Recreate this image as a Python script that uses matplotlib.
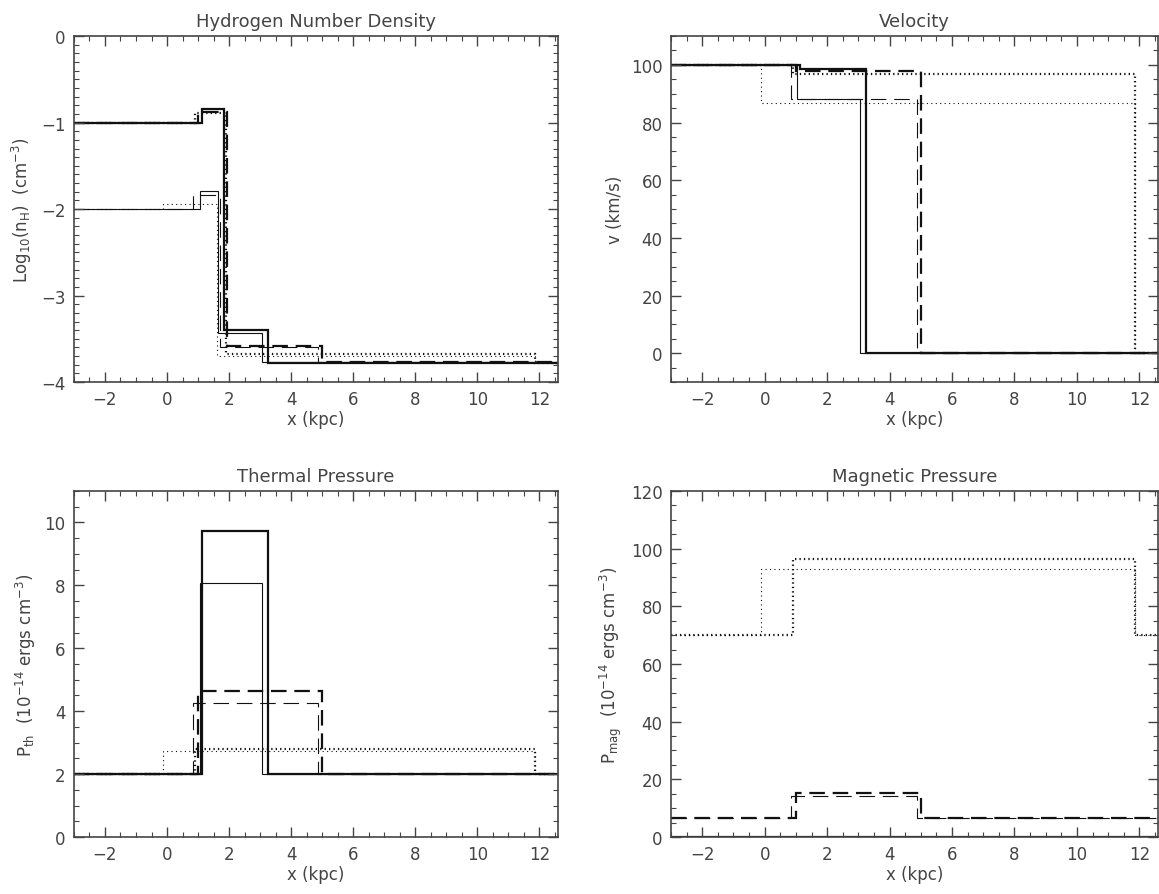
import matplotlib
matplotlib.use("Agg")
import matplotlib.pyplot as plt
from matplotlib.ticker import MultipleLocator

# x edges of each step profile (kpc), then the values between the edges
EDGES_SOLID_THICK = [-3, 1.14, 1.84, 3.24, 12.6]
EDGES_SOLID_THIN = [-3, 1.05, 1.65, 3.05, 12.6]
EDGES_DASH_THICK = [-3, 1.0, 1.93, 5.0, 12.6]
EDGES_DASH_THIN = [-3, 0.84, 1.71, 4.88, 12.6]
EDGES_DOT_THICK = [-3, 0.9, 1.9, 11.87, 12.6]
EDGES_DOT_THIN = [-3, -0.12, 1.61, 11.85, 12.6]

# Log10 hydrogen number density
NH_SOLID_THICK = [-1.0, -0.84, -3.40, -3.78]
NH_SOLID_THIN = [-2.0, -1.79, -3.43, -3.77]
NH_DASH_THICK = [-1.0, -0.88, -3.58, -3.77]
NH_DASH_THIN = [-2.0, -1.84, -3.60, -3.77]
NH_DOT_THICK = [-1.0, -0.89, -3.68, -3.78]
NH_DOT_THIN = [-2.0, -1.94, -3.70, -3.78]

# velocity (km/s)
V_SOLID_THICK = [100, 98.6, 98.6, 0]
V_SOLID_THIN = [100, 88, 88, 0]
V_DASH_THICK = [100, 98, 98, 0]
V_DASH_THIN = [100, 88, 88, 0]
V_DOT_THICK = [100, 96.8, 96.8, 0]
V_DOT_THIN = [100, 86.8, 86.8, 0]

# thermal pressure (1e-14 ergs cm^-3)
PTH_SOLID_THICK = [2, 9.73, 9.73, 2]
PTH_SOLID_THIN = [2, 8.08, 8.08, 2]
PTH_DASH_THICK = [2, 4.64, 4.64, 2]
PTH_DASH_THIN = [2, 4.26, 4.26, 2]
PTH_DOT_THICK = [2, 2.8, 2.8, 2]
PTH_DOT_THIN = [2, 2.73, 2.73, 2]

# magnetic pressure (1e-14 ergs cm^-3)
PMAG_SOLID_THICK = [0, 0, 0, 0]
PMAG_SOLID_THIN = [0, 0, 0, 0]
PMAG_DASH_THICK = [6.5, 15.2, 15.2, 6.5]
PMAG_DASH_THIN = [6.5, 14.3, 14.3, 6.5]
PMAG_DOT_THICK = [70, 96.4, 96.4, 70]
PMAG_DOT_THIN = [70, 93, 93, 70]

TXT = "#444444"
plt.rcParams['font.family'] = ['DejaVu Sans']
plt.rcParams['font.size'] = 12

fig = plt.figure(figsize=(11.59, 8.95), dpi=100)

# line styles per run: (edges, lw, linestyle)
styles = [
    (EDGES_SOLID_THICK, 1.6, "-"),
    (EDGES_SOLID_THIN, 0.8, "-"),
    (EDGES_DASH_THICK, 1.6, (0, (7, 3.5))),
    (EDGES_DASH_THIN, 0.8, (0, (14, 7))),
    (EDGES_DOT_THICK, 1.6, (0, (0.6, 1.4))),
    (EDGES_DOT_THIN, 0.8, (0, (1, 3))),
]

panels = [
    ("Hydrogen Number Density", r"Log$_{10}$(n$_{\rm H}$)  (cm$^{-3}$)",
     [NH_SOLID_THICK, NH_SOLID_THIN, NH_DASH_THICK, NH_DASH_THIN, NH_DOT_THICK, NH_DOT_THIN],
     (-4, 0), 1, 0.1, [0.0638, 0.572, 0.4177, 0.3866]),
    ("Velocity", "v (km/s)",
     [V_SOLID_THICK, V_SOLID_THIN, V_DASH_THICK, V_DASH_THIN, V_DOT_THICK, V_DOT_THIN],
     (-10, 110), 20, 5, [0.579, 0.572, 0.4202, 0.3866]),
    ("Thermal Pressure", r"P$_{\rm th}$  (10$^{-14}$ ergs cm$^{-3}$)",
     [PTH_SOLID_THICK, PTH_SOLID_THIN, PTH_DASH_THICK, PTH_DASH_THIN, PTH_DOT_THICK, PTH_DOT_THIN],
     (0, 11), 2, 0.5, [0.0638, 0.0637, 0.4177, 0.3866]),
    ("Magnetic Pressure", r"P$_{\rm mag}$  (10$^{-14}$ ergs cm$^{-3}$)",
     [PMAG_SOLID_THICK, PMAG_SOLID_THIN, PMAG_DASH_THICK, PMAG_DASH_THIN, PMAG_DOT_THICK, PMAG_DOT_THIN],
     (0, 120), 20, 5, [0.579, 0.0637, 0.4202, 0.3866]),
]

for title, ylabel, series, ylim, ymaj, ymin, rect in panels:
    ax = fig.add_axes(rect)
    for (edges, lw, ls), vals in zip(styles, series):
        ax.stairs(vals, edges, baseline=None, color="#111111", lw=lw, linestyle=ls)
    ax.set_xlim(-3, 12.6)
    ax.set_ylim(*ylim)
    ax.xaxis.set_major_locator(MultipleLocator(2))
    ax.xaxis.set_minor_locator(MultipleLocator(0.5))
    ax.yaxis.set_major_locator(MultipleLocator(ymaj))
    ax.yaxis.set_minor_locator(MultipleLocator(ymin))
    ax.tick_params(which="both", direction="in", top=True, right=True,
                   color="#444444", labelcolor=TXT, labelsize=12, pad=6)
    ax.tick_params(which="major", length=7, width=1)
    ax.tick_params(which="minor", length=3.5, width=0.8)
    for sp in ax.spines.values():
        sp.set_color("#444444")
        sp.set_linewidth(1.2)
    ax.set_title(title, color=TXT, fontsize=13, pad=7)
    ax.set_xlabel("x (kpc)", color=TXT, fontsize=12, labelpad=1)
    ax.set_ylabel(ylabel, color=TXT, fontsize=12, labelpad=5)

fig.savefig("out.png", dpi=100)
